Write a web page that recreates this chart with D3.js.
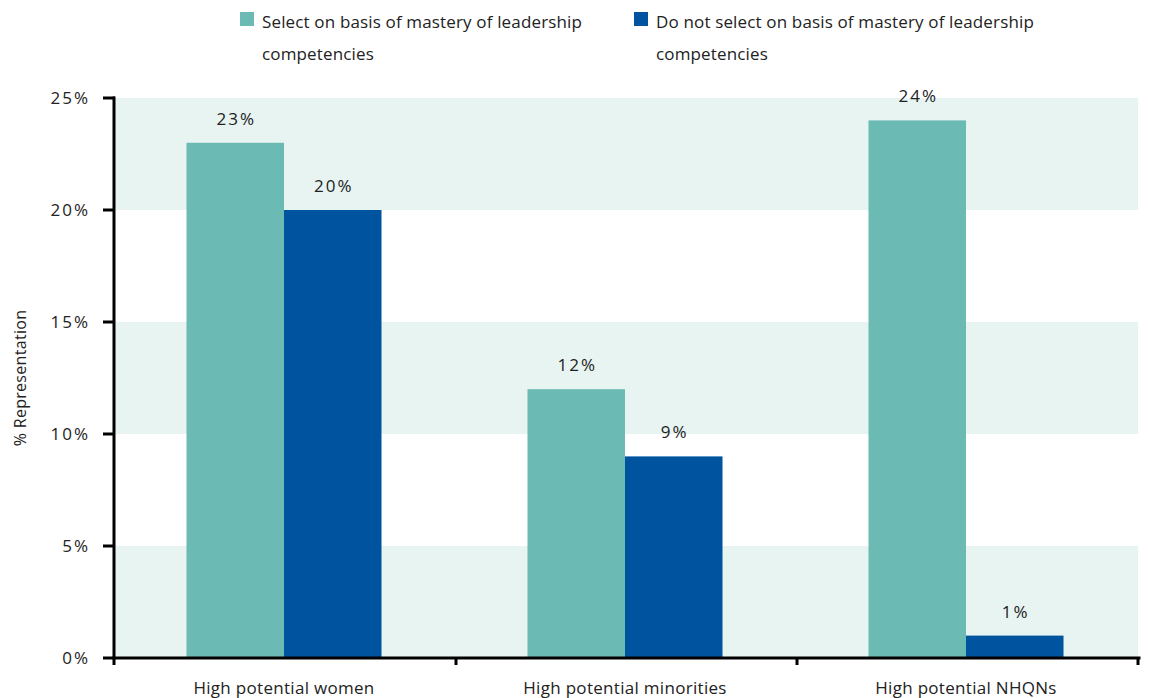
<!DOCTYPE html>
<html>
<head>
<meta charset="utf-8">
<script src="https://cdn.jsdelivr.net/npm/d3@7"></script>
<style>
  html, body { margin: 0; padding: 0; background: #fff; }
  svg { display: block; font-family: "Open Sans", "Noto Sans", sans-serif; }
</style>
</head>
<body>
<svg id="chart" width="1149" height="698"></svg>
<script>
const categories = ["High potential women", "High potential minorities", "High potential NHQNs"];
const seriesNames = [
  ["Select on basis of mastery of leadership", "competencies"],
  ["Do not select on basis of mastery of leadership", "competencies"]
];
const selectValues = [23, 12, 24];
const notSelectValues = [20, 9, 1];
const yTicks = [0, 5, 10, 15, 20, 25];
const colors = ["#6bbab3", "#00549f"];

const svg = d3.select("#chart");
const m = { left: 115, right: 1138, top: 98, bottom: 658 };

const x = d3.scaleBand().domain(categories).range([m.left, m.right]);
const y = d3.scaleLinear().domain([0, 25]).range([m.bottom, m.top]);
const barW = 97.5;
const textColor = "#222";
const pct = d => d + "%";

// alternating shaded bands
const bands = [[0, 5], [10, 15], [20, 25]];
svg.append("g").selectAll("rect").data(bands).join("rect")
  .attr("x", m.left).attr("width", m.right - m.left)
  .attr("y", d => y(d[1])).attr("height", d => y(d[0]) - y(d[1]))
  .attr("fill", "#e7f4f1");

// grouped bars with value labels
const rows = categories.map((c, i) => ({ c, vals: [selectValues[i], notSelectValues[i]] }));
const g = svg.append("g");
rows.forEach(r => {
  const cx = x(r.c) + x.bandwidth() / 2 - 1.5;
  r.vals.forEach((v, k) => {
    const bx = cx - barW + k * barW;
    g.append("rect")
      .attr("x", bx).attr("width", barW)
      .attr("y", y(v)).attr("height", y(0) - y(v))
      .attr("fill", colors[k]);
    g.append("text")
      .attr("x", bx + barW / 2 + 1).attr("y", y(v) - 18)
      .attr("text-anchor", "middle")
      .attr("font-size", 17).attr("letter-spacing", 2).attr("fill", textColor)
      .text(pct(v));
  });
});

// y axis
const yAxis = svg.append("g");
yAxis.append("line").attr("x1", m.left - 1).attr("x2", m.left - 1)
  .attr("y1", y(25) - 1.5).attr("y2", y(0) + 7)
  .attr("stroke", "#000").attr("stroke-width", 3);
yAxis.selectAll("line.t").data(yTicks).join("line").attr("class", "t")
  .attr("x1", m.left - 12).attr("x2", m.left)
  .attr("y1", d => y(d)).attr("y2", d => y(d))
  .attr("stroke", "#000").attr("stroke-width", 3);
yAxis.selectAll("text").data(yTicks).join("text")
  .attr("x", 90).attr("y", d => y(d) + 6)
  .attr("text-anchor", "end").attr("font-size", 17).attr("letter-spacing", 2)
  .attr("fill", textColor)
  .text(pct);

// x axis with ticks at category boundaries
const xAxis = svg.append("g");
xAxis.append("line").attr("x1", m.left - 2.5).attr("x2", m.right + 2.5)
  .attr("y1", y(0)).attr("y2", y(0))
  .attr("stroke", "#000").attr("stroke-width", 3);
const bounds = categories.map(c => x(c)).concat([m.right]);
xAxis.selectAll("line.t").data(bounds.slice(1)).join("line").attr("class", "t")
  .attr("x1", d => d).attr("x2", d => d)
  .attr("y1", y(0)).attr("y2", y(0) + 7)
  .attr("stroke", "#000").attr("stroke-width", 3);
xAxis.selectAll("text").data(categories).join("text")
  .attr("x", d => x(d) + x.bandwidth() / 2 - 1.5).attr("y", 694)
  .attr("text-anchor", "middle").attr("font-size", 17).attr("letter-spacing", 0.3)
  .attr("fill", textColor)
  .text(d => d);

// y axis title
svg.append("text")
  .attr("transform", "translate(26,378) rotate(-90)")
  .attr("text-anchor", "middle").attr("font-size", 16).attr("letter-spacing", 0.3)
  .attr("fill", textColor)
  .text("% Representation");

// legend
const legX = [240, 634];
seriesNames.forEach((lines, k) => {
  const lg = svg.append("g");
  lg.append("rect").attr("x", legX[k]).attr("y", 12).attr("width", 14).attr("height", 14)
    .attr("fill", colors[k]);
  lines.forEach((t, j) => {
    lg.append("text").attr("x", legX[k] + 22).attr("y", 28 + j * 32)
      .attr("font-size", 17).attr("letter-spacing", 0.15).attr("fill", textColor).text(t);
  });
});
</script>
</body>
</html>
